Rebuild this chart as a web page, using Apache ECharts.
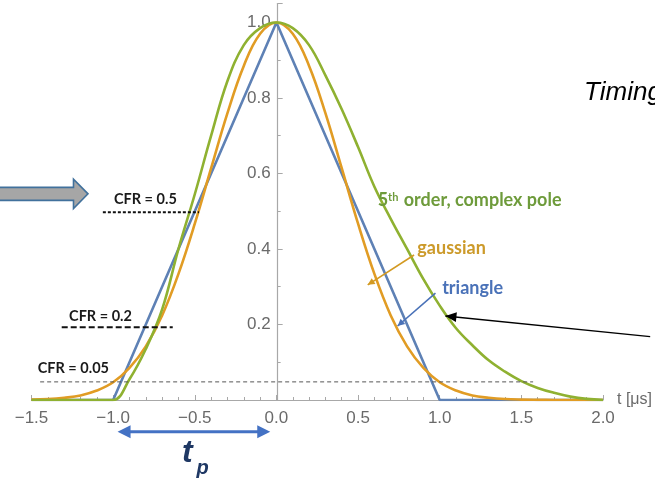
<!DOCTYPE html>
<html><head><meta charset="utf-8">
<script src="https://cdn.jsdelivr.net/npm/echarts@6/dist/echarts.min.js"></script>
<style>html,body{margin:0;padding:0;background:#fff;overflow:hidden}#c{width:655px;height:479px}</style>
</head><body><div id="c"></div>
<script>
// time axis (µs)
const time = [-1.5,-1.4,-1.3,-1.2,-1.1,-1.0,-0.9,-0.8,-0.7,-0.6,-0.5,-0.4,-0.3,-0.2,-0.1,0,
  0.1,0.2,0.3,0.4,0.5,0.6,0.7,0.8,0.9,1.0,1.1,1.2,1.3,1.4,1.5,1.6,1.7,1.8,1.9,2.0];
const triangle = [0,0,0,0,0,0,0.1,0.2,0.3,0.4,0.5,0.6,0.7,0.8,0.9,1,
  0.9,0.8,0.7,0.6,0.5,0.4,0.3,0.2,0.1,0,0,0,0,0,0,0,0,0,0,0];
const gaussian = [0.001,0.0025,0.006,0.012,0.025,0.047,0.085,0.142,0.224,0.334,0.467,0.614,0.760,0.885,0.970,1,
  0.970,0.885,0.760,0.614,0.467,0.334,0.224,0.142,0.085,0.047,0.025,0.012,0.006,0.0025,0.001,0.0004,0.0001,0,0,0];
const complexPole = [0,0,0,0,0,0,0.055,0.135,0.24,0.40,0.545,0.70,0.845,0.94,0.985,1,
  0.985,0.94,0.86,0.77,0.67,0.565,0.48,0.40,0.32,0.25,0.19,0.145,0.105,0.075,0.05,0.032,0.019,0.009,0.003,0];
const cfrLevels = [0.5, 0.2, 0.05];
const cfrLabels = ['CFR = 0.5', 'CFR = 0.2', 'CFR = 0.05'];

const pairs = ys => time.map((t, i) => [t, ys[i]]);
const fmt = v => (v < 0 ? '\u2212' : '') + Math.abs(v).toFixed(1);

const chart = echarts.init(document.getElementById('c'), null, {renderer: 'canvas'});
const axisGray = '#a8a8a8';
const labelGray = '#6a6a6a';
const gridLeft = 31.5;
chart.setOption({
  animation: false,
  grid: {left: gridLeft, right: 48, top: 3.6, bottom: 79, containLabel: false},
  xAxis: {
    type: 'value', min: -1.5, max: 2.0, interval: 0.5,
    name: 't [\u03bcs]', nameLocation: 'end', nameGap: 14,
    nameTextStyle: {color: labelGray, fontSize: 16, fontFamily: 'Liberation Sans', verticalAlign: 'middle', padding: [10, 0, 0, 0]},
    axisLine: {onZero: true, lineStyle: {color: axisGray, width: 1.2}},
    axisTick: {show: true, inside: true, length: 5, lineStyle: {color: axisGray}},
    minorTick: {show: true, splitNumber: 5, length: 3, lineStyle: {color: axisGray}},
    splitLine: {show: false},
    axisLabel: {formatter: fmt, color: labelGray, fontSize: 17, fontFamily: 'Liberation Sans', margin: 10}
  },
  yAxis: {
    type: 'value', min: 0, max: 1.05, interval: 0.2, position: 'left',
    axisLine: {show: true, onZero: false, lineStyle: {color: axisGray, width: 1.2}},
    axisTick: {show: true, inside: true, length: 5, lineStyle: {color: axisGray}},
    minorTick: {show: true, splitNumber: 2, length: 3, lineStyle: {color: axisGray}},
    splitLine: {show: false},
    axisLabel: {formatter: v => v.toFixed(1), color: labelGray, fontSize: 17, fontFamily: 'Liberation Sans', margin: 7,
      showMinLabel: false, showMaxLabel: false}
  },
  series: [
    {name: 'triangle', type: 'line', data: pairs(triangle), symbol: 'none', smooth: false,
      lineStyle: {color: '#5e81b5', width: 2.6}, z: 2},
    {name: 'gaussian', type: 'line', data: pairs(gaussian), symbol: 'none', smooth: 0.4,
      lineStyle: {color: '#e19c24', width: 2.6}, z: 3},
    {name: '5th order, complex pole', type: 'line', data: pairs(complexPole), symbol: 'none', smooth: 0.4,
      lineStyle: {color: '#8fb131', width: 2.6}, z: 4}
  ]
});

const P = (x, y) => chart.convertToPixel({xAxisIndex: 0, yAxisIndex: 0}, [x, y]);
// put the y axis (line, ticks, labels) on t = 0
chart.setOption({yAxis: {offset: -(P(0, 0)[0] - gridLeft)}});

function head(tip, from, len, hw, color) {
  const dx = tip[0] - from[0], dy = tip[1] - from[1];
  const d = Math.hypot(dx, dy), ux = dx / d, uy = dy / d;
  const bx = tip[0] - ux * len, by = tip[1] - uy * len;
  return {type: 'polygon', shape: {points: [tip, [bx - uy * hw, by + ux * hw], [bx + uy * hw, by - ux * hw]]},
    style: {fill: color}, z: 20};
}
function line(a, b, color, w, dash) {
  return {type: 'line', shape: {x1: a[0], y1: a[1], x2: b[0], y2: b[1]},
    style: {stroke: color, lineWidth: w, lineDash: dash || null}, z: 20};
}
function text(p, str, font, fill, rich) {
  return {type: 'text', x: p[0], y: p[1], z: 21,
    style: {text: str, font: font, fill: fill, verticalAlign: 'middle', align: 'left', rich: rich || undefined}};
}
const ann = 'bold 18px Lato';
const g = [];
// CFR dashed lines
const cfrSpans = [[-1.063, -0.474], [-1.315, -0.635], [-1.447, 1.572]];
const cfrTextPos = [[-0.995, 0.532], [-1.27, 0.222], [-1.462, 0.085]];
cfrLevels.forEach((lv, i) => {
  const yv = lv === 0.05 ? 0.048 : (lv === 0.2 ? 0.193 : 0.497);
  const a = P(cfrSpans[i][0], yv), b = P(cfrSpans[i][1], yv);
  if (i === 2) g.push(line(a, b, '#555', 1, [4, 3]));
  else g.push(line(a, b, '#111', 2, i === 0 ? [3, 2] : [6, 3]));
  g.push(text(P(cfrTextPos[i][0], cfrTextPos[i][1]), cfrLabels[i], 'bold 14.5px Lato', '#1a1a1a'));
});
// gray block arrow at left
const tip = P(-1.154, 0.546);
g.push({type: 'polygon', z: 20, shape: {points: [
  [tip[0] - 95, tip[1] - 6.5], [tip[0] - 14.5, tip[1] - 6.5], [tip[0] - 14.5, tip[1] - 14.7], tip,
  [tip[0] - 14.5, tip[1] + 14.7], [tip[0] - 14.5, tip[1] + 6.5], [tip[0] - 95, tip[1] + 6.5]]},
  style: {fill: '#a6a6a6', stroke: '#41719c', lineWidth: 1.6}});
// curve labels
g.push(text(P(0.62, 0.528), '5{s|th} order, complex pole', ann, '#6e9b3b',
  {s: {font: 'bold 11px Lato', fill: '#6e9b3b', verticalAlign: 'top', padding: [0, 1, 7, 0]}}));
g.push(text(P(0.863, 0.403), 'gaussian', ann, '#cc9a2a'));
g.push(text(P(1.015, 0.297), 'triangle', ann, '#4a72b8'));
// pointers
let a1 = P(0.843, 0.384), b1 = P(0.559, 0.305);
g.push(line(a1, b1, '#d39a22', 1.6)); g.push(head(b1, a1, 7, 3.5, '#d39a22'));
let a2 = P(0.974, 0.283), b2 = P(0.742, 0.196);
g.push(line(a2, b2, '#4a72b8', 1.6)); g.push(head(b2, a2, 7, 3.5, '#4a72b8'));
let a3 = P(2.289, 0.168), b3 = P(1.035, 0.2225);
g.push(line(a3, b3, '#000', 1.4)); g.push(head(b3, a3, 11, 5, '#000'));
// Timing title (cut off at right edge)
g.push(text(P(1.884, 0.813), 'Timing', 'italic 26px "Liberation Sans"', '#000'));
// t_p double arrow
let l1 = P(-0.973, -0.084), l2 = P(-0.038, -0.084);
g.push(line([l1[0] + 8, l1[1]], [l2[0] - 8, l2[1]], '#4472c4', 3));
g.push(head(l1, l2, 13, 6.5, '#4472c4')); g.push(head(l2, l1, 13, 6.5, '#4472c4'));
g.push(text(P(-0.578, -0.14), 't', 'italic bold 32px "Liberation Sans"', '#1f3864'));
g.push(text(P(-0.49, -0.182), 'p', 'italic bold 20px "Liberation Sans"', '#1f3864'));
chart.setOption({graphic: {elements: g}});
</script></body></html>
